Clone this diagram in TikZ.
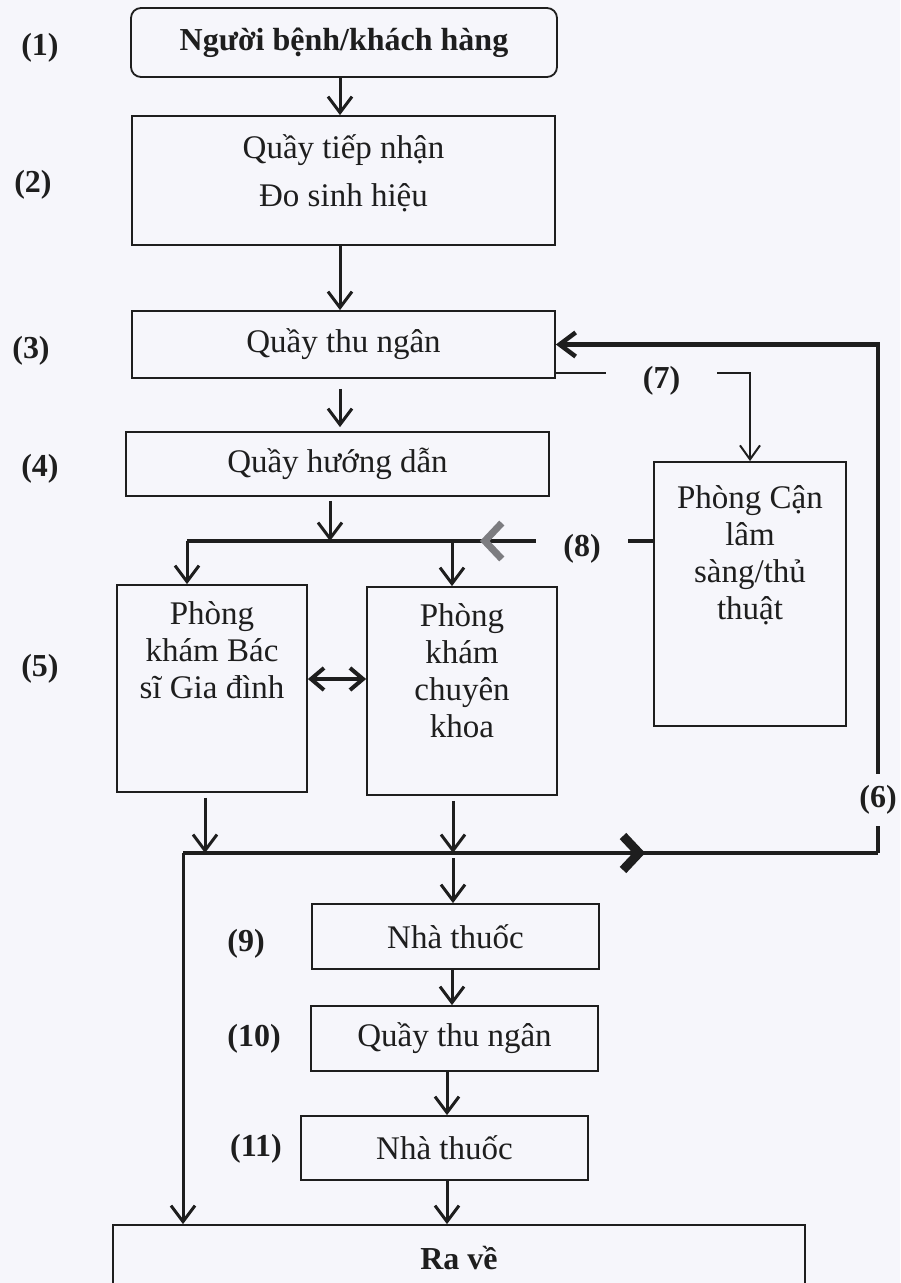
\documentclass[tikz,border=0pt]{standalone}
\usepackage{fontspec}
\setmainfont{Liberation Serif}
\usetikzlibrary{arrows.meta,decorations.markings}

\definecolor{paper}{HTML}{F6F6FB}
\definecolor{ink}{HTML}{1E1E1E}
\definecolor{chevgray}{HTML}{7C7C80}
\newcommand{\bigfont}{\fontsize{33}{37}\selectfont}
\newcommand{\tagfont}{\fontsize{32}{37}\selectfont\bfseries}

\tikzset{
  box/.style={draw=ink, line width=1.8pt, rectangle, inner sep=0pt, align=center,
    text=ink, font=\bigfont},
  toptext/.style={anchor=north, align=center, inner sep=0pt, text=ink, font=\bigfont},
  tag/.style={text=ink, inner sep=0pt, font=\tagfont},
  gaptag/.style={tag, text height=30pt, text depth=0pt},
  arr/.style={draw=ink, line width=3pt, -{Straight Barb[length=16pt,width=24pt]}},
  thinline/.style={draw=ink, line width=2pt},
  thinarr/.style={thinline, -{Straight Barb[length=14pt,width=20pt]}},
  busline/.style={draw=ink, line width=4.5pt},
  backarr/.style={busline, -{Straight Barb[length=16pt,width=24pt]}},
  dblarr/.style={draw=ink, line width=4pt,
    {Straight Barb[length=13pt,width=22pt]}-{Straight Barb[length=13pt,width=22pt]}},
  chevsix/.style={postaction=decorate, decoration={markings,
    mark=at position #1 with {\arrow[ink, line width=9pt]{Straight Barb[length=16pt,width=34pt]}}}},
  chevgrey/.style={postaction=decorate, decoration={markings,
    mark=at position #1 with {\arrow[chevgray, line width=7pt]{Straight Barb[length=17pt,width=36pt]}}}}
}

\begin{document}
\begin{tikzpicture}[x=1pt,y=-1pt]
  \fill[paper] (0,0) rectangle (900,1283);
  \useasboundingbox (0,0) rectangle (900,1283);

  % step numbers
  \node[tag] (t1) at (40,48) {(1)};
  \node[tag] (t2) at (33,185) {(2)};
  \node[tag] (t3) at (31,351) {(3)};
  \node[tag] (t4) at (40,469) {(4)};
  \node[tag] (t5) at (40,669) {(5)};
  \node[tag] (t9) at (246,944) {(9)};
  \node[tag] (t10) at (254,1039) {(10)};
  \node[tag] (t11) at (256,1149) {(11)};

  % main column
  \node[box, rounded corners=10pt, minimum width=426pt, minimum height=69pt,
    font=\tagfont] (nguoibenh) at (344,42.5) {Người bệnh/khách hàng};
  \node[box, minimum width=423pt, minimum height=129pt,
    label={[toptext, yshift=-19pt]north:Quầy tiếp nhận\\[11pt]Đo sinh hiệu}] (tiepnhan) at (343.5,180.5) {};
  \node[box, minimum width=423pt, minimum height=67pt] (thungan) at (343.5,344.5) {Quầy thu ngân};
  \node[box, minimum width=423pt, minimum height=64pt] (huongdan) at (337.5,464) {Quầy hướng dẫn};

  % rooms
  \node[box, minimum width=190pt, minimum height=207pt,
    label={[toptext, yshift=-17pt]north:Phòng\\khám Bác\\sĩ Gia đình}] (bsgd) at (212,688.5) {};
  \node[box, minimum width=190pt, minimum height=208pt,
    label={[toptext, yshift=-17pt]north:Phòng\\khám\\chuyên\\khoa}] (chuyenkhoa) at (462,691) {};
  \node[box, minimum width=192pt, minimum height=264pt,
    label={[toptext, yshift=-24pt]north:Phòng Cận\\lâm\\sàng/thủ\\thuật}] (canls) at (750,594) {};

  % lower column
  \node[box, minimum width=287pt, minimum height=65pt] (thuoc1) at (455.5,936.5) {Nhà thuốc};
  \node[box, minimum width=287pt, minimum height=65pt] (thungan2) at (454.5,1038.5) {Quầy thu ngân};
  \node[box, minimum width=287pt, minimum height=64pt] (thuoc2) at (444.5,1148) {Nhà thuốc};
  \node[box, minimum width=692pt, minimum height=120pt,
    label={[tag, anchor=center, yshift=-34pt]north:Ra về}] (rave) at (459,1285) {};

  % branch labels
  \node[gaptag, minimum width=111pt] (t7) at (661.5,373) {(7)};
  \node[gaptag, minimum width=92pt] (t8) at (582,541) {(8)};
  \node[tag, minimum height=52pt] (t6) at (878,800) {(6)};

  \coordinate (busA) at (187,541);
  \coordinate (busB) at (183,853);
  \coordinate (busC) at (878,853);

  % arrows down the column
  \draw[arr] (nguoibenh.south -| 340,0) -- (tiepnhan.north -| 340,0);
  \draw[arr] (tiepnhan.south -| 340,0) -- (thungan.north -| 340,0);
  \draw[arr, shorten <=10pt, shorten >=4pt] (thungan.south -| 340,0) -- (huongdan.north -| 340,0);
  \draw[arr, shorten <=4pt] (huongdan.south -| 330,0) -- (busA -| 330,0);

  % (7) and (8)
  \draw[thinline] (thungan.east |- t7.west) -- (t7.west);
  \draw[thinarr] (t7.east) -| (canls.north);
  \draw[busline] (canls.west |- t8.east) -- (t8.east);
  \draw[busline, chevgrey=0.16] (t8.west) -- (busA);
  \draw[arr] (busA) -- (bsgd.north -| busA);
  \draw[arr] (busA -| 452,0) -- (chuyenkhoa.north -| 452,0);
  \draw[dblarr] (bsgd.east |- 0,679) -- (chuyenkhoa.west |- 0,679);

  % (6) back to the cashier
  \draw[arr, shorten <=5pt] (bsgd.south -| 205,0) -- (busB -| 205,0);
  \draw[arr, shorten <=5pt] (chuyenkhoa.south -| 453,0) -- (busB -| 453,0);
  \draw[busline, chevsix=0.665] (busB) -- (busC);
  \draw[busline] (busC) -- (t6.south);
  \draw[backarr] (t6.north) |- (thungan.east);

  % to the pharmacy and out
  \draw[arr, shorten <=5pt] (busB -| 453,0) -- (thuoc1.north -| 453,0);
  \draw[arr] (thuoc1.south -| 452,0) -- (thungan2.north -| 452,0);
  \draw[arr] (thungan2.south -| 447,0) -- (thuoc2.north -| 447,0);
  \draw[arr] (thuoc2.south -| 447,0) -- (rave.north -| 447,0);
  \draw[arr] (busB) -- (rave.north -| busB);
\end{tikzpicture}
\end{document}
